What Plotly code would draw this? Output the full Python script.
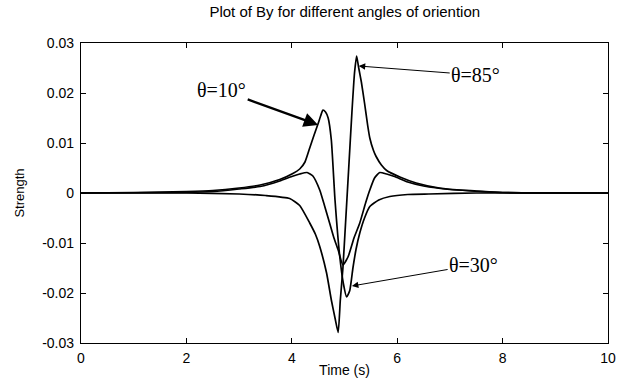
import plotly.graph_objects as go

# Time samples and field strength readings for each orientation angle
t_10 = [0, 1.0, 2.0, 2.5, 3.0, 3.4, 3.77, 4.02, 4.15, 4.25, 4.34, 4.42, 4.5, 4.55, 4.59,
        4.64, 4.69, 4.75, 4.82, 4.91, 4.98, 5.04, 5.1, 5.16, 5.22, 5.29, 5.38, 5.48,
        5.65, 5.86, 6.2, 6.6, 7.5, 10]
by_10 = [0, 0.0001, 0.0003, 0.0005, 0.0010, 0.0016, 0.0027, 0.0039, 0.0048, 0.0062, 0.0090,
         0.0115, 0.0139, 0.0155, 0.0166, 0.0162, 0.0150, 0.0106, -0.0014, -0.0127,
         -0.0182, -0.0208, -0.0195, -0.0150, -0.0112, -0.0080, -0.0050, -0.0027,
         -0.0014, -0.0007, -0.0003, -0.0002, 0, 0]

t_30 = [0, 2.0, 2.5, 3.0, 3.4, 3.77, 4.0, 4.15, 4.29, 4.4, 4.53, 4.62, 4.72, 4.8, 4.88,
        4.97, 5.07, 5.18, 5.29, 5.4, 5.48, 5.57, 5.67, 5.8, 5.95, 6.2, 6.5, 7.0, 7.5,
        8.0, 10]
by_30 = [0, 0.0001, 0.0003, 0.0008, 0.0013, 0.0024, 0.0033, 0.0038, 0.0041, 0.0034,
         0.0006, -0.0025, -0.0061, -0.0090, -0.0114, -0.0144, -0.0127, -0.0090,
         -0.0060, -0.0020, 0.0006, 0.0030, 0.0041, 0.0038, 0.0033, 0.0022, 0.0014,
         0.0007, 0.0004, 0.0001, 0]

t_85 = [0, 2.0, 3.0, 3.5, 3.96, 4.15, 4.34, 4.45, 4.53, 4.66, 4.75, 4.82, 4.88, 4.92,
        4.97, 5.02, 5.08, 5.14, 5.19, 5.23, 5.27, 5.32, 5.38, 5.44, 5.48, 5.55, 5.6,
        5.7, 5.8, 6.05, 6.36, 6.8, 7.3, 8.0, 10]
by_85 = [0, 0, -0.0002, -0.0005, -0.0011, -0.0025, -0.0060, -0.0083, -0.0107, -0.0160,
         -0.0214, -0.0250, -0.0279, -0.0215, -0.0150, -0.0060, 0.0050, 0.0160, 0.0240,
         0.0274, 0.0250, 0.0222, 0.0180, 0.0135, 0.0110, 0.0085, 0.0073, 0.0056,
         0.0045, 0.0032, 0.0020, 0.0010, 0.0005, 0.0001, 0]

y_ticks = [0.03, 0.02, 0.01, 0, -0.01, -0.02, -0.03]
y_tick_text = ["0.03", "0.02", "0.01", "0", "-0.01", "-0.02", "-0.03"]
x_ticks = [0, 2, 4, 6, 8, 10]

fig = go.Figure()
for tt, yy in [(t_10, by_10), (t_30, by_30), (t_85, by_85)]:
    fig.add_trace(go.Scatter(x=tt, y=yy, mode="lines",
                             line=dict(color="black", width=1.7, shape="spline", smoothing=0.5),
                             showlegend=False, hoverinfo="skip"))

serif = dict(family="Liberation Serif, Times New Roman, serif", size=20, color="black")

# label text centre (ax, ay) and arrow tip (x, y) in data units
fig.add_annotation(text="θ=10°", x=4.5, y=0.0136, ax=2.67, ay=0.0206, axref="x", ayref="y",
                   showarrow=True, arrowhead=2, arrowsize=1.2, arrowwidth=2.4, arrowcolor="black",
                   font=serif)
fig.add_annotation(text="θ=85°", x=5.27, y=0.0254, ax=7.49, ay=0.0236, axref="x", ayref="y",
                   showarrow=True, arrowhead=2, arrowsize=1.3, arrowwidth=1, arrowcolor="black",
                   font=serif)
fig.add_annotation(text="θ=30°", x=5.14, y=-0.0186, ax=7.45, ay=-0.0144, axref="x", ayref="y",
                   showarrow=True, arrowhead=2, arrowsize=1.3, arrowwidth=1, arrowcolor="black",
                   font=serif)

sans = "Liberation Sans, Arial, sans-serif"
axis_common = dict(showgrid=False, zeroline=False, showline=True, linecolor="black", linewidth=1.2,
                   mirror="ticks", ticks="inside", ticklen=5, tickcolor="black", automargin=False,
                   tickfont=dict(family=sans, size=14, color="black"))

fig.update_xaxes(range=[0, 10], tickvals=x_ticks, ticktext=[str(v) for v in x_ticks],
                 title=dict(text="Time (s)", font=dict(family=sans, size=14, color="black"), standoff=0),
                 ticklabelstandoff=2, **axis_common)
fig.update_yaxes(range=[-0.03, 0.03], tickvals=y_ticks, ticktext=y_tick_text,
                 title=dict(text="Strength", font=dict(family=sans, size=13, color="black"), standoff=14),
                 ticklabelstandoff=3, **axis_common)

fig.update_layout(
    width=619, height=382,
    margin=dict(l=81, r=11, t=43, b=39),
    paper_bgcolor="white", plot_bgcolor="white",
    title=dict(text="Plot of By for different angles of oriention", x=0.557, xanchor="center",
               y=0.968, yanchor="middle", yref="container",
               font=dict(family=sans, size=15, color="black")),
)

fig.write_html("out.html")
